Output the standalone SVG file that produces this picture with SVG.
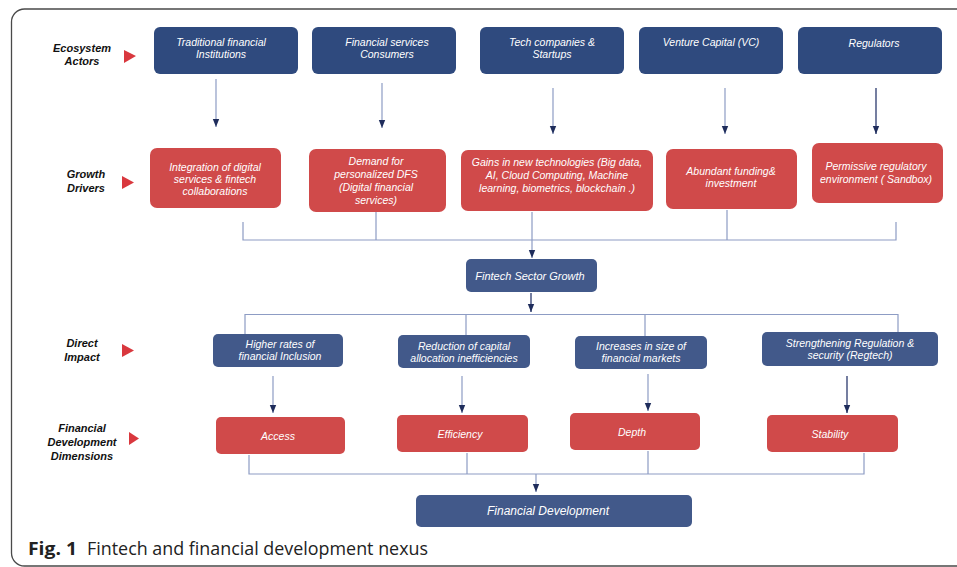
<svg xmlns="http://www.w3.org/2000/svg" width="957" height="567" viewBox="0 0 957 567">
<defs>
<marker id="ah2" markerUnits="userSpaceOnUse" markerWidth="8" markerHeight="8" viewBox="0 0 8 8" refX="8" refY="4" orient="auto">
<path d="M0,0.8 L8,4 L0,7.2 Z" fill="#1f2d5c"/>
</marker>
</defs>
<style>
.frame{fill:none;stroke:#4a4a4a;stroke-width:1.3}
.navy{fill:#2f4a7e}
.navy2{fill:#42598a}
.red{fill:#d04a4a}
.bt{font-family:"Liberation Sans",Arial,sans-serif;font-style:italic;font-size:10.5px;fill:#ffffff;text-anchor:middle}
.lbl{font-family:"Liberation Sans",Arial,sans-serif;font-style:italic;font-weight:bold;font-size:11px;fill:#111;text-anchor:middle}
.tri{fill:#d9383e}
.ln{fill:none;stroke:#8d9cc4;stroke-width:1.2}
.lnd{fill:none;stroke:#2b3a6e;stroke-width:1.3}
.cap{font-family:"Open Sans","Noto Sans",Arial,sans-serif;font-size:18px;fill:#222}
</style>
<rect class="frame" x="11.5" y="9" width="1000" height="557" rx="13"/>

<g id="row-labels">
<text class="lbl" x="82" y="52">Ecosystem</text>
<text class="lbl" x="82" y="65">Actors</text>
<polygon class="tri" points="124,50 136,56 124,63"/>
<text class="lbl" x="86" y="178">Growth</text>
<text class="lbl" x="86" y="192">Drivers</text>
<polygon class="tri" points="122,176 134,182.5 122,189"/>
<text class="lbl" x="82" y="347">Direct</text>
<text class="lbl" x="82" y="361">Impact</text>
<polygon class="tri" points="122,344 134,350.5 122,357"/>
<text class="lbl" x="82" y="432">Financial</text>
<text class="lbl" x="82" y="446">Development</text>
<text class="lbl" x="82" y="460">Dimensions</text>
<polygon class="tri" points="129,432 139,438.5 129,445"/>
</g>

<g id="connectors">
<path class="ln" d="M216,79 V127" marker-end="url(#ah2)"/>
<path class="ln" d="M382,83 V128" marker-end="url(#ah2)"/>
<path class="ln" d="M553,88 V134" marker-end="url(#ah2)"/>
<path class="ln" d="M725,88 V134" marker-end="url(#ah2)"/>
<path class="lnd" d="M876,88 V134" marker-end="url(#ah2)"/>
<path class="ln" d="M243,222 V240 H896 V222 M376,212 V240 M532,212 V240 M727,210 V240"/>
<path class="ln" d="M532,240 V258" marker-end="url(#ah2)"/>
<path class="lnd" d="M531,293 V312" marker-end="url(#ah2)"/>
<path class="ln" d="M245,335 V314.5 H898 V332 M466,314.5 V336 M645,314.5 V336"/>
<path class="ln" d="M273,376 V413" marker-end="url(#ah2)"/>
<path class="ln" d="M462,376 V413" marker-end="url(#ah2)"/>
<path class="ln" d="M648,374 V411" marker-end="url(#ah2)"/>
<path class="lnd" d="M847,376 V413" marker-end="url(#ah2)"/>
<path class="ln" d="M249,455 V474 H864 V453 M467,453 V474 M648,451 V474"/>
<path class="ln" d="M536,474 V492" marker-end="url(#ah2)"/>
</g>

<g id="actor-traditional">
<rect class="navy" x="154" y="27" width="144" height="47" rx="6"/>
<text class="bt" x="221" y="46">Traditional financial</text>
<text class="bt" x="221" y="58">Institutions</text>
</g>
<g id="actor-consumers">
<rect class="navy" x="312" y="27" width="144" height="47" rx="6"/>
<text class="bt" x="387" y="46">Financial services</text>
<text class="bt" x="387" y="58">Consumers</text>
</g>
<g id="actor-tech">
<rect class="navy" x="480" y="27" width="144" height="47" rx="6"/>
<text class="bt" x="552" y="46">Tech companies &amp;</text>
<text class="bt" x="552" y="58">Startups</text>
</g>
<g id="actor-vc">
<rect class="navy" x="639" y="27" width="144" height="47" rx="6"/>
<text class="bt" x="711" y="46">Venture  Capital (VC)</text>
</g>
<g id="actor-regulators">
<rect class="navy" x="798" y="27" width="144" height="47" rx="6"/>
<text class="bt" x="874" y="47">Regulators</text>
</g>

<g id="driver-integration">
<rect class="red" x="150" y="148" width="131" height="60" rx="7"/>
<text class="bt" x="215" y="171">Integration of digital</text>
<text class="bt" x="215" y="183">services &amp; fintech</text>
<text class="bt" x="215" y="195">collaborations</text>
</g>
<g id="driver-demand">
<rect class="red" x="309" y="149" width="137" height="63" rx="7"/>
<text class="bt" x="376" y="165">Demand for</text>
<text class="bt" x="376" y="178">personalized DFS</text>
<text class="bt" x="376" y="191">(Digital financial</text>
<text class="bt" x="376" y="204">services)</text>
</g>
<g id="driver-tech">
<rect class="red" x="461" y="150" width="192" height="61" rx="7"/>
<text class="bt" x="557" y="166">Gains in new technologies (Big data,</text>
<text class="bt" x="557" y="179">AI, Cloud Computing, Machine</text>
<text class="bt" x="557" y="192">learning, biometrics, blockchain .)</text>
</g>
<g id="driver-funding">
<rect class="red" x="666" y="149" width="131" height="60" rx="7"/>
<text class="bt" x="731" y="175">Abundant funding&amp;</text>
<text class="bt" x="731" y="187">investment</text>
</g>
<g id="driver-regulatory">
<rect class="red" x="812" y="143" width="131" height="60" rx="7"/>
<text class="bt" x="876" y="170">Permissive regulatory</text>
<text class="bt" x="876" y="183">environment ( Sandbox)</text>
</g>

<g id="fintech-growth">
<rect class="navy2" x="466" y="259" width="131" height="33" rx="5"/>
<text class="bt" x="530" y="280" style="font-size:11px">Fintech Sector Growth</text>
</g>

<g id="impact-inclusion">
<rect class="navy2" x="213" y="334" width="130" height="33" rx="5"/>
<text class="bt" x="280" y="348">Higher rates of</text>
<text class="bt" x="280" y="360">financial Inclusion</text>
</g>
<g id="impact-allocation">
<rect class="navy2" x="398" y="335" width="132" height="33" rx="5"/>
<text class="bt" x="464" y="350">Reduction of capital</text>
<text class="bt" x="464" y="362">allocation inefficiencies</text>
</g>
<g id="impact-markets">
<rect class="navy2" x="575" y="336" width="132" height="33" rx="5"/>
<text class="bt" x="641" y="350">Increases in size of</text>
<text class="bt" x="641" y="362">financial markets</text>
</g>
<g id="impact-regtech">
<rect class="navy2" x="762" y="332" width="176" height="34" rx="5"/>
<text class="bt" x="850" y="347">Strengthening Regulation &amp;</text>
<text class="bt" x="850" y="359">security (Regtech)</text>
</g>

<g id="dim-access">
<rect class="red" x="216" y="417" width="129" height="37" rx="5"/>
<text class="bt" x="278" y="440">Access</text>
</g>
<g id="dim-efficiency">
<rect class="red" x="397" y="415" width="131" height="37" rx="5"/>
<text class="bt" x="460" y="438">Efficiency</text>
</g>
<g id="dim-depth">
<rect class="red" x="570" y="413" width="130" height="37" rx="5"/>
<text class="bt" x="632" y="436">Depth</text>
</g>
<g id="dim-stability">
<rect class="red" x="767" y="415" width="131" height="37" rx="5"/>
<text class="bt" x="830" y="438">Stability</text>
</g>

<g id="financial-development">
<rect class="navy2" x="416" y="495" width="276" height="32" rx="5"/>
<text class="bt" x="548" y="515" style="font-size:12px">Financial Development</text>
</g>

<text class="cap" y="555"><tspan x="28" font-weight="bold" textLength="49" lengthAdjust="spacingAndGlyphs">Fig. 1</tspan><tspan x="87" textLength="341" lengthAdjust="spacingAndGlyphs">Fintech and financial development nexus</tspan></text>
</svg>
